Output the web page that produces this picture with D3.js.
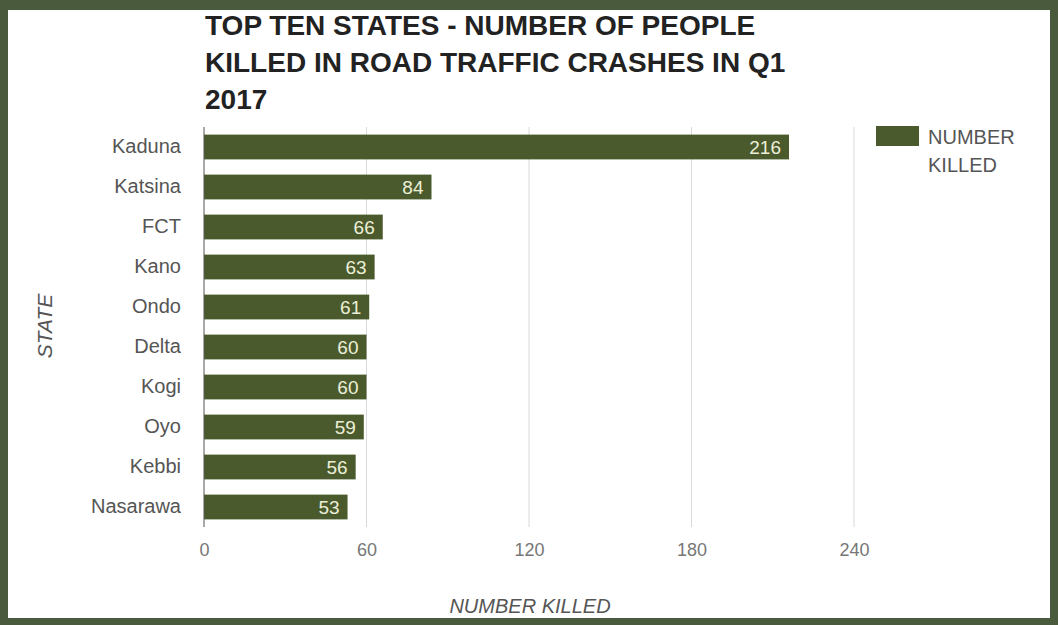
<!DOCTYPE html>
<html>
<head>
<meta charset="utf-8">
<script src="https://cdn.jsdelivr.net/npm/d3@7"></script>
<style>
html,body{margin:0;padding:0;background:#4a5a3c;}
svg{display:block;}
</style>
</head>
<body>
<svg id="chart" width="1058" height="625"></svg>
<script>
const states = ["Kaduna","Katsina","FCT","Kano","Ondo","Delta","Kogi","Oyo","Kebbi","Nasarawa"];
const killed = [216,84,66,63,61,60,60,59,56,53];
const xTicks = [0,60,120,180,240];
const titleLines = ["TOP TEN STATES - NUMBER OF PEOPLE","KILLED IN ROAD TRAFFIC CRASHES IN Q1","2017"];
const legendLines = ["NUMBER","KILLED"];

(function(){
const svg = d3.select("#chart");
const W = 1058, H = 625;
const barColor = "#4b5a2d";
const FF = "Liberation Sans, Arial, sans-serif";

// frame
svg.append("rect").attr("x",0).attr("y",0).attr("width",W).attr("height",H).attr("fill","#4a5a3c");
svg.append("rect").attr("x",8).attr("y",10).attr("width",1042).attr("height",608).attr("fill","#ffffff");

const pLeft = 204, pRight = 854, pTop = 127, pBottom = 527;
const x = d3.scaleLinear().domain([0,240]).range([pLeft,pRight]);
const y = d3.scaleBand().domain(states).range([pTop,pBottom]).paddingInner(0.38).paddingOuter(0.19);

// gridlines
svg.append("g").selectAll("line").data(xTicks.slice(1)).join("line")
  .attr("x1",d=>x(d)).attr("x2",d=>x(d)).attr("y1",pTop).attr("y2",pBottom)
  .attr("stroke","#d9d9d9").attr("stroke-width",1);

// bars
svg.append("g").selectAll("rect").data(states).join("rect")
  .attr("x",x(0)).attr("y",d=>y(d)).attr("height",y.bandwidth())
  .attr("width",(d,i)=>x(killed[i])-x(0)).attr("fill",barColor);

// zero axis line
svg.append("line").attr("x1",x(0)).attr("x2",x(0)).attr("y1",pTop).attr("y2",pBottom)
  .attr("stroke","#555").attr("stroke-width",1);

// value labels
svg.append("g").selectAll("text").data(states).join("text")
  .attr("x",(d,i)=>x(killed[i])-8).attr("y",d=>y(d)+y.bandwidth()/2)
  .attr("dy","0.36em").attr("text-anchor","end")
  .attr("font-family",FF).attr("font-size",19)
  .attr("fill","#ecefd8").text((d,i)=>killed[i]);

// y axis labels
const yAxis = d3.axisLeft(y).tickSize(0).tickPadding(23);
const yg = svg.append("g").attr("transform",`translate(${pLeft},0)`).call(yAxis);
yg.select(".domain").remove();
yg.selectAll("text").attr("font-family",FF).attr("font-size",20).attr("fill","#555");

// x axis labels
const xAxis = d3.axisBottom(x).tickValues(xTicks).tickSize(0).tickPadding(16);
const xg = svg.append("g").attr("transform",`translate(0,${pBottom})`).call(xAxis);
xg.select(".domain").remove();
xg.selectAll("text").attr("font-family",FF).attr("font-size",18).attr("fill","#777");

// title
svg.append("g").selectAll("text").data(titleLines).join("text")
  .attr("x",205).attr("y",(d,i)=>35+i*37)
  .attr("font-family",FF).attr("font-weight","bold")
  .attr("font-size",28).attr("fill","#222").text(d=>d);

// axis titles
svg.append("text").attr("x",530).attr("y",613).attr("text-anchor","middle")
  .attr("font-family",FF).attr("font-style","italic")
  .attr("font-size",20).attr("fill","#555").text("NUMBER KILLED");
svg.append("text").attr("transform","translate(52,326) rotate(-90)").attr("text-anchor","middle")
  .attr("font-family",FF).attr("font-style","italic")
  .attr("font-size",21).attr("fill","#555").text("STATE");

// legend
svg.append("rect").attr("x",876).attr("y",126).attr("width",43).attr("height",20).attr("fill",barColor);
svg.append("g").selectAll("text").data(legendLines).join("text")
  .attr("x",928).attr("y",(d,i)=>144+i*28)
  .attr("font-family",FF).attr("font-size",20).attr("fill","#555").text(d=>d);
})();
</script>
</body>
</html>
